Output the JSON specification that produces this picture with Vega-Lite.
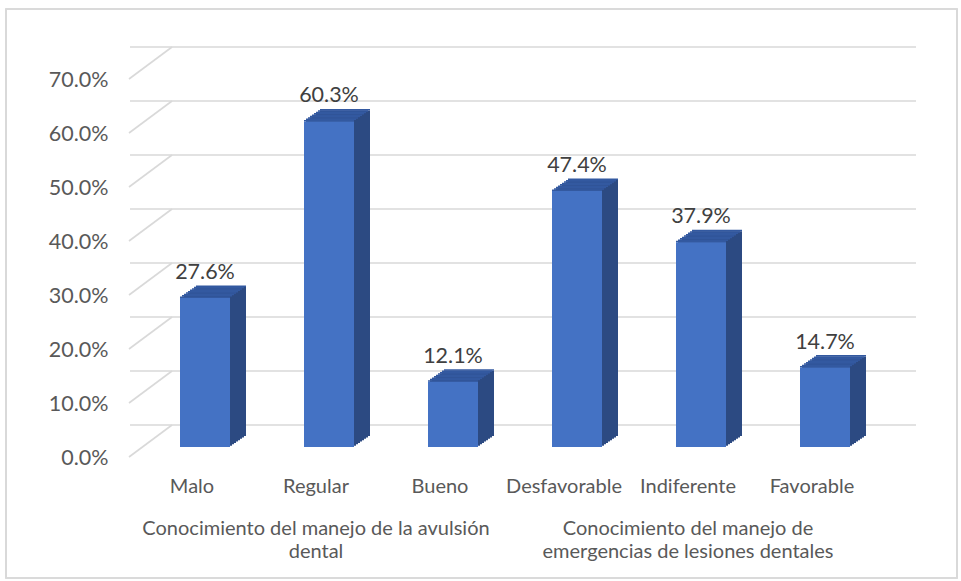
{
  "$schema": "https://vega.github.io/schema/vega-lite/v6.json",
  "width": 744,
  "height": 378,
  "autosize": {"type": "none"},
  "padding": {"left": 130, "top": 69, "right": 87, "bottom": 134},
  "background": "#ffffff",
  "config": {"view": {"stroke": null}, "font": "Lato"},
  "data": {"values": [
    {"categoria": "Malo", "valor": 0.276},
    {"categoria": "Regular", "valor": 0.603},
    {"categoria": "Bueno", "valor": 0.121},
    {"categoria": "Desfavorable", "valor": 0.474},
    {"categoria": "Indiferente", "valor": 0.379},
    {"categoria": "Favorable", "valor": 0.147}
  ]},
  "layer": [
    {
      "mark": {"type": "rect", "fill": null, "stroke": "#D9D9D9", "strokeWidth": 1.2, "xOffset": -124, "x2Offset": 145, "yOffset": -60, "y2Offset": 131},
      "encoding": {
        "x": {"datum": "Malo", "type": "nominal", "title": null, "scale": {"type": "band", "domain": ["Malo", "Regular", "Bueno", "Desfavorable", "Indiferente", "Favorable"], "paddingInner": 0, "paddingOuter": 0}, "bandPosition": 0},
        "x2": {"datum": "Favorable"},
        "y": {"datum": 0.7, "type": "quantitative", "title": null, "scale": {"domain": [0, 0.7]}},
        "y2": {"datum": 0}
      }
    },
    {
      "data": {"values": [{"v": 0}, {"v": 0.1}, {"v": 0.2}, {"v": 0.3}, {"v": 0.4}, {"v": 0.5}, {"v": 0.6}, {"v": 0.7}]},
      "mark": {"type": "rule", "color": "#D9D9D9", "strokeWidth": 1.6, "xOffset": 42, "x2Offset": 44, "yOffset": -22},
      "encoding": {"y": {"field": "v", "type": "quantitative", "title": null}}
    },
    {
      "data": {"values": [{"v": 0}, {"v": 0.1}, {"v": 0.2}, {"v": 0.3}, {"v": 0.4}, {"v": 0.5}, {"v": 0.6}, {"v": 0.7}]},
      "mark": {"type": "rule", "color": "#D9D9D9", "strokeWidth": 1.6, "xOffset": -1, "yOffset": 10, "y2Offset": -22},
      "encoding": {"x": {"value": 0}, "x2": {"value": 42}, "y": {"field": "v", "type": "quantitative", "title": null}, "y2": {"field": "v"}}
    },
    {"mark": {"type": "bar", "width": 50, "color": "#2C4A82", "xOffset": 29, "yOffset": -11, "y2Offset": -11}, "encoding": {"x": {"field": "categoria", "type": "nominal", "title": null}, "y": {"field": "valor", "type": "quantitative", "title": null}, "y2": {"datum": 0}}},
    {"mark": {"type": "bar", "width": 50, "color": "#2C4A82", "xOffset": 27, "yOffset": -9.625, "y2Offset": -9.625}, "encoding": {"x": {"field": "categoria", "type": "nominal", "title": null}, "y": {"field": "valor", "type": "quantitative", "title": null}, "y2": {"datum": 0}}},
    {"mark": {"type": "bar", "width": 50, "color": "#2C4A82", "xOffset": 25, "yOffset": -8.25, "y2Offset": -8.25}, "encoding": {"x": {"field": "categoria", "type": "nominal", "title": null}, "y": {"field": "valor", "type": "quantitative", "title": null}, "y2": {"datum": 0}}},
    {"mark": {"type": "bar", "width": 50, "color": "#2C4A82", "xOffset": 23, "yOffset": -6.875, "y2Offset": -6.875}, "encoding": {"x": {"field": "categoria", "type": "nominal", "title": null}, "y": {"field": "valor", "type": "quantitative", "title": null}, "y2": {"datum": 0}}},
    {"mark": {"type": "bar", "width": 50, "color": "#2C4A82", "xOffset": 21, "yOffset": -5.5, "y2Offset": -5.5}, "encoding": {"x": {"field": "categoria", "type": "nominal", "title": null}, "y": {"field": "valor", "type": "quantitative", "title": null}, "y2": {"datum": 0}}},
    {"mark": {"type": "bar", "width": 50, "color": "#2C4A82", "xOffset": 19, "yOffset": -4.125, "y2Offset": -4.125}, "encoding": {"x": {"field": "categoria", "type": "nominal", "title": null}, "y": {"field": "valor", "type": "quantitative", "title": null}, "y2": {"datum": 0}}},
    {"mark": {"type": "bar", "width": 50, "color": "#2C4A82", "xOffset": 17, "yOffset": -2.75, "y2Offset": -2.75}, "encoding": {"x": {"field": "categoria", "type": "nominal", "title": null}, "y": {"field": "valor", "type": "quantitative", "title": null}, "y2": {"datum": 0}}},
    {"mark": {"type": "bar", "width": 50, "color": "#2C4A82", "xOffset": 15, "yOffset": -1.375, "y2Offset": -1.375}, "encoding": {"x": {"field": "categoria", "type": "nominal", "title": null}, "y": {"field": "valor", "type": "quantitative", "title": null}, "y2": {"datum": 0}}},
    {"mark": {"type": "bar", "width": 50, "color": "#3359A0", "xOffset": 29, "yOffset": -12.5, "y2Offset": -11}, "encoding": {"x": {"field": "categoria", "type": "nominal", "title": null}, "y": {"field": "valor", "type": "quantitative", "title": null}, "y2": {"field": "valor"}}},
    {"mark": {"type": "bar", "width": 50, "color": "#3359A0", "xOffset": 27, "yOffset": -11.125, "y2Offset": -9.625}, "encoding": {"x": {"field": "categoria", "type": "nominal", "title": null}, "y": {"field": "valor", "type": "quantitative", "title": null}, "y2": {"field": "valor"}}},
    {"mark": {"type": "bar", "width": 50, "color": "#3359A0", "xOffset": 25, "yOffset": -9.75, "y2Offset": -8.25}, "encoding": {"x": {"field": "categoria", "type": "nominal", "title": null}, "y": {"field": "valor", "type": "quantitative", "title": null}, "y2": {"field": "valor"}}},
    {"mark": {"type": "bar", "width": 50, "color": "#3359A0", "xOffset": 23, "yOffset": -8.375, "y2Offset": -6.875}, "encoding": {"x": {"field": "categoria", "type": "nominal", "title": null}, "y": {"field": "valor", "type": "quantitative", "title": null}, "y2": {"field": "valor"}}},
    {"mark": {"type": "bar", "width": 50, "color": "#3359A0", "xOffset": 21, "yOffset": -7, "y2Offset": -5.5}, "encoding": {"x": {"field": "categoria", "type": "nominal", "title": null}, "y": {"field": "valor", "type": "quantitative", "title": null}, "y2": {"field": "valor"}}},
    {"mark": {"type": "bar", "width": 50, "color": "#3359A0", "xOffset": 19, "yOffset": -5.625, "y2Offset": -4.125}, "encoding": {"x": {"field": "categoria", "type": "nominal", "title": null}, "y": {"field": "valor", "type": "quantitative", "title": null}, "y2": {"field": "valor"}}},
    {"mark": {"type": "bar", "width": 50, "color": "#3359A0", "xOffset": 17, "yOffset": -4.25, "y2Offset": -2.75}, "encoding": {"x": {"field": "categoria", "type": "nominal", "title": null}, "y": {"field": "valor", "type": "quantitative", "title": null}, "y2": {"field": "valor"}}},
    {"mark": {"type": "bar", "width": 50, "color": "#3359A0", "xOffset": 15, "yOffset": -2.875, "y2Offset": -1.375}, "encoding": {"x": {"field": "categoria", "type": "nominal", "title": null}, "y": {"field": "valor", "type": "quantitative", "title": null}, "y2": {"field": "valor"}}},
    {"mark": {"type": "bar", "width": 50, "color": "#3359A0", "xOffset": 13, "yOffset": -1.5, "y2Offset": 0}, "encoding": {"x": {"field": "categoria", "type": "nominal", "title": null}, "y": {"field": "valor", "type": "quantitative", "title": null}, "y2": {"field": "valor"}}},
    {
      "mark": {"type": "bar", "width": 50, "color": "#4472C4", "xOffset": 13, "yOffset": 0, "y2Offset": 0},
      "encoding": {
        "x": {"field": "categoria", "type": "nominal", "title": null, "axis": {"title": null, "labelAngle": 0, "labelAlign": "center", "labelBaseline": "top", "domain": false, "ticks": false, "tickSize": 0, "grid": false, "labelFont": "Lato", "labelFontSize": 20, "labelColor": "#595959", "labelPadding": 29}},
        "y": {"field": "valor", "type": "quantitative", "title": null, "axis": {"title": null, "values": [0, 0.1, 0.2, 0.3, 0.4, 0.5, 0.6, 0.7], "format": ".1%", "domain": false, "ticks": false, "tickSize": 0, "grid": false, "labelPadding": 22, "labelOffset": 11, "labelFont": "Lato", "labelFontSize": 21.5, "labelColor": "#595959"}},
        "y2": {"datum": 0}
      }
    },
    {
      "mark": {"type": "text", "xOffset": 13, "yOffset": -19, "baseline": "alphabetic", "align": "center", "fontSize": 21.5, "font": "Lato", "color": "#404040"},
      "encoding": {
        "x": {"field": "categoria", "type": "nominal", "title": null},
        "y": {"field": "valor", "type": "quantitative", "title": null},
        "text": {"field": "valor", "type": "quantitative", "format": ".1%"}
      }
    },
    {
      "data": {"values": [
        {"centro": "Regular", "texto": "Conocimiento del manejo de la avulsión\ndental"},
        {"centro": "Indiferente", "texto": "Conocimiento del manejo de\nemergencias de lesiones dentales"}
      ]},
      "mark": {"type": "text", "lineBreak": "\n", "lineHeight": 23, "yOffset": 88, "baseline": "alphabetic", "align": "center", "fontSize": 20, "font": "Lato", "color": "#595959"},
      "encoding": {
        "x": {"field": "centro", "type": "nominal", "title": null},
        "y": {"datum": 0, "type": "quantitative", "title": null},
        "text": {"field": "texto", "type": "nominal"}
      }
    }
  ]
}
